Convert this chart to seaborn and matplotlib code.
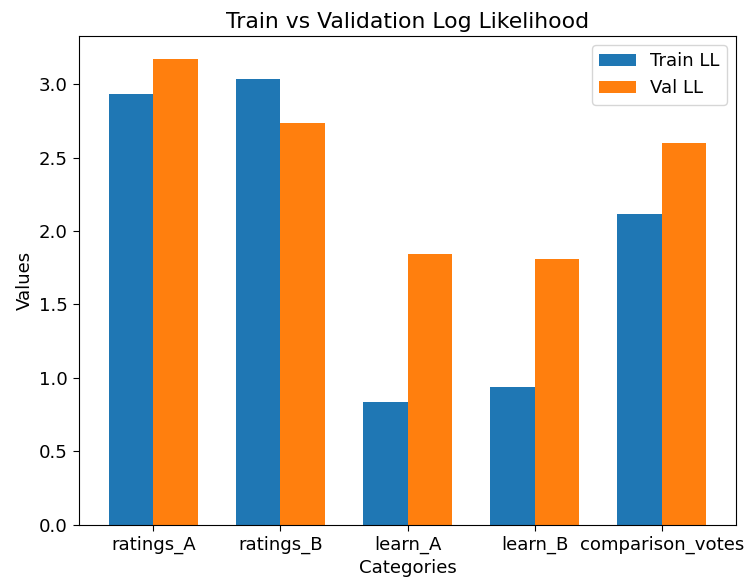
import matplotlib
matplotlib.use("Agg")
import matplotlib.pyplot as plt
import seaborn as sns
import pandas as pd

categories = ["ratings_A", "ratings_B", "learn_A", "learn_B", "comparison_votes"]
train_ll = [2.933, 3.035, 0.834, 0.937, 2.115]
val_ll = [3.171, 2.735, 1.843, 1.808, 2.599]
series_names = ["Train LL", "Val LL"]

df = pd.DataFrame({
    "Categories": categories * 2,
    "Values": train_ll + val_ll,
    "Series": [series_names[0]] * len(categories) + [series_names[1]] * len(categories),
})

plt.rcParams["font.family"] = ["DejaVu Sans"]
plt.rcParams["font.size"] = 13.1
plt.rcParams["xtick.major.size"] = 4.5
plt.rcParams["ytick.major.size"] = 4.5

fig = plt.figure(figsize=(7.47, 5.83), dpi=100)
ax = fig.add_axes([79 / 747, 1 - 524.5 / 583, (736 - 79) / 747, (524.5 - 36) / 583])
sns.barplot(data=df, x="Categories", y="Values", hue="Series",
            palette=["#1f77b4", "#ff7f0e"], saturation=1, width=0.7, ax=ax)
ax.set_xlim(-0.585, 4.585)
ax.set_ylim(0, 3.171 * 1.05)
ax.set_title("Train vs Validation Log Likelihood")
ax.set_xlabel("Categories")
ax.set_ylabel("Values")
ax.legend(loc="upper right", title=None)
fig.savefig("out.png", dpi=100)
